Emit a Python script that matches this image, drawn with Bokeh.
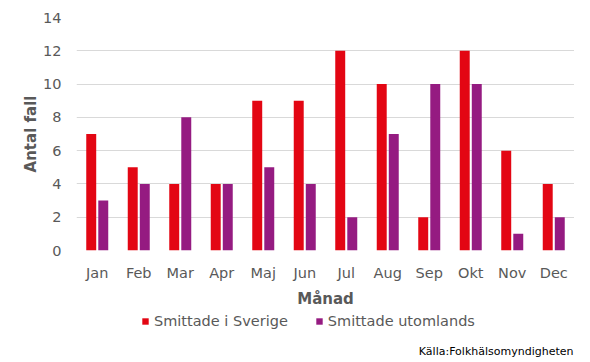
from bokeh.plotting import figure
from bokeh.layouts import column
from bokeh.models import (FactorRange, Range1d, FixedTicker, ColumnDataSource,
                          Legend, LegendItem, Label)
from bokeh.transform import dodge
from bokeh.embed import file_html
from bokeh.resources import INLINE

months = ["Jan", "Feb", "Mar", "Apr", "Maj", "Jun", "Jul", "Aug", "Sep", "Okt", "Nov", "Dec"]
sverige = [7, 5, 4, 4, 9, 9, 12, 10, 2, 12, 6, 4]
utomlands = [3, 4, 8, 4, 5, 4, 2, 7, 10, 10, 1, 2]
y_ticks = [0, 2, 4, 6, 8, 10, 12, 14]
series_names = ["Smittade i Sverige", "Smittade utomlands"]
colors = ["#E30613", "#951B81"]
source_text = "Källa:Folkhälsomyndigheten"

FONT = "DejaVu Sans"
GREY = "#595959"

src = ColumnDataSource(dict(m=months, s=sverige, u=utomlands))

p = figure(x_range=FactorRange(*months, range_padding=0), y_range=Range1d(0, 14),
           width=574, height=310,
           min_border_left=76, min_border_right=0, min_border_top=17, min_border_bottom=59,
           output_backend="svg", toolbar_location=None)
p.outline_line_color = None
p.background_fill_color = "white"
p.border_fill_color = "white"

p.vbar(x=dodge("m", -0.145, range=p.x_range), top="s", width=0.24, source=src,
       fill_color=colors[0], line_color=None)
p.vbar(x=dodge("m", 0.145, range=p.x_range), top="u", width=0.24, source=src,
       fill_color=colors[1], line_color=None)

p.xgrid.grid_line_color = None
p.ygrid.grid_line_color = "#d9d9d9"
p.ygrid.grid_line_width = 1
p.yaxis.ticker = FixedTicker(ticks=y_ticks)

for ax in (p.xaxis[0], p.yaxis[0]):
    ax.axis_line_color = None
    ax.major_tick_line_color = None
    ax.minor_tick_line_color = None
    ax.major_tick_out = 0
    ax.major_tick_in = 0
    ax.major_label_text_font = FONT
    ax.major_label_text_font_size = "14.5px"
    ax.major_label_text_color = GREY
    ax.axis_label_text_font = FONT
    ax.axis_label_text_font_size = "15px"
    ax.axis_label_text_font_style = "bold"
    ax.axis_label_text_color = GREY

p.yaxis.axis_label = "Antal fall"
p.yaxis.major_label_standoff = 15
p.yaxis.axis_label_standoff = 0
p.xaxis.axis_label = "Månad"
p.xaxis.major_label_standoff = 14
p.xaxis.axis_label_standoff = 6

# footer: legend + source note (its frame is aligned with the chart's frame)
p2 = figure(x_range=FactorRange(*months), y_range=Range1d(0, 52), width=574, height=52,
            min_border=0, x_axis_location=None, y_axis_location=None,
            output_backend="svg", toolbar_location=None)
p2.outline_line_color = None
p2.grid.grid_line_color = None
k1 = p2.vbar(x="m", top="s", width=0.24, source=src, fill_color=colors[0],
             line_color=None, visible=False)
k2 = p2.vbar(x="m", top="u", width=0.24, source=src, fill_color=colors[1],
             line_color=None, visible=False)

legend = Legend(items=[LegendItem(label=series_names[0], renderers=[k1]),
                       LegendItem(label=series_names[1], renderers=[k2])],
                orientation="horizontal", location=(65, 33),
                glyph_width=8, glyph_height=8, label_standoff=5, spacing=27,
                padding=0, margin=0, border_line_color=None, background_fill_alpha=0,
                inactive_fill_alpha=0,
                label_text_font=FONT, label_text_font_size="14.5px",
                label_text_color=GREY)
p2.add_layout(legend)

p2.add_layout(Label(x=497, y=11, x_units="screen", y_units="screen",
                    text=source_text, text_align="right",
                    text_baseline="alphabetic", text_font=FONT, text_font_size="11px",
                    text_color="black"))

layout = column(p, p2, spacing=0)
open("out.html", "w").write(file_html(layout, INLINE))
